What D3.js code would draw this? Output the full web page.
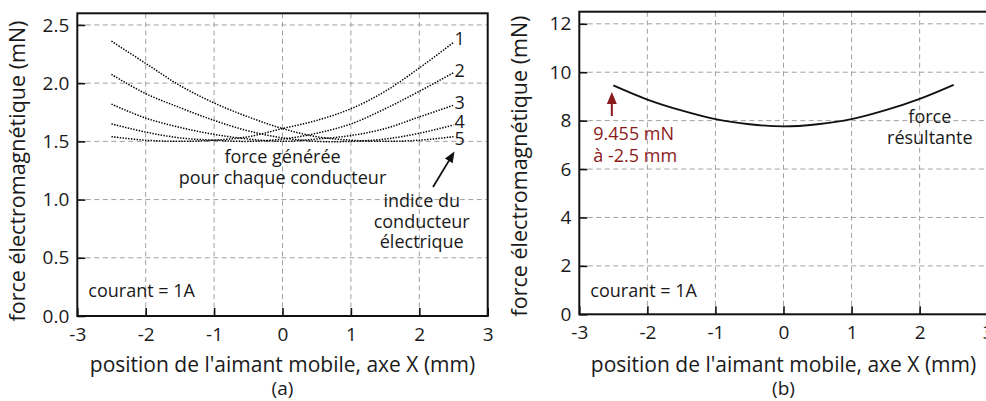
<!DOCTYPE html>
<html>
<head>
<meta charset="utf-8">
<script src="https://cdn.jsdelivr.net/npm/d3@7/dist/d3.min.js"></script>
<style>
  html, body { margin: 0; padding: 0; background: #fff; }
  svg { display: block; }
  text { font-family: "Open Sans", "Noto Sans", sans-serif; fill: #1a1a1a; }
</style>
</head>
<body>
<svg id="chart" width="986" height="401"></svg>
<script>
// Magnet position along X (mm)
const positions = [-2.5, -2, -1.5, -1, -0.5, 0, 0.5, 1, 1.5, 2, 2.5];

// Force generated on each conductor (mN), current = 1 A
const conducteur1 = [1.54, 1.51, 1.50, 1.51, 1.54, 1.61, 1.68, 1.78, 1.93, 2.13, 2.35];
const conducteur2 = [1.65, 1.58, 1.53, 1.51, 1.50, 1.52, 1.57, 1.65, 1.78, 1.93, 2.09];
const conducteur3 = [1.82, 1.70, 1.62, 1.56, 1.52, 1.50, 1.52, 1.55, 1.61, 1.71, 1.81];
const conducteur4 = [2.075, 1.91, 1.79, 1.68, 1.59, 1.53, 1.50, 1.50, 1.52, 1.57, 1.64];
const conducteur5 = [2.36, 2.17, 1.98, 1.83, 1.71, 1.61, 1.54, 1.51, 1.50, 1.51, 1.54];

// Resulting force on the whole winding (mN)
const resultante = [9.455, 8.87, 8.42, 8.06, 7.85, 7.76, 7.85, 8.06, 8.43, 8.90, 9.48];

const conducteurs = [conducteur1, conducteur2, conducteur3, conducteur4, conducteur5];
const conducteurLabels = ["1", "2", "3", "4", "5"];

const xTicks = [-3, -2, -1, 0, 1, 2, 3];
const yTicksA = [0, 0.5, 1.0, 1.5, 2.0, 2.5];
const yTicksB = [0, 2, 4, 6, 8, 10, 12];

const FS = 18;        // annotations
const FS_TICK = 19;   // tick labels
const FS_X = 21;      // x-axis title
const FS_Y = 21.5;    // y-axis title
const FONT = "'Open Sans', 'Noto Sans', sans-serif";
const RED = "#8b1a1a";
const svg = d3.select("#chart");

// filled triangular arrow head whose tip sits at (x, y), pointing along angle (radians)
function arrowHead(g, x, y, angle, len, half, color) {
  const c = Math.cos(angle), s = Math.sin(angle);
  const bx = x - c * len, by = y - s * len;
  g.append("path")
    .attr("d", `M${x},${y} L${bx - s * half},${by + c * half} L${bx + s * half},${by - c * half} Z`)
    .attr("fill", color);
}

function panel(opts) {
  const g = svg.append("g");
  const x = d3.scaleLinear().domain([-3, 3]).range([opts.left, opts.right]);
  const y = d3.scaleLinear().domain([0, opts.yMax]).range([opts.bottom, opts.top]);

  // dashed grid
  const grid = g.append("g")
    .attr("stroke", "#a2a2a2")
    .attr("stroke-width", 1)
    .attr("stroke-dasharray", "5,3.5");
  grid.selectAll("line.v").data(xTicks.filter(d => d > -3)).join("line")
    .attr("x1", d => x(d)).attr("x2", d => x(d))
    .attr("y1", opts.bottom).attr("y2", opts.top);
  grid.selectAll("line.h").data(opts.yTicks.filter(d => d > 0)).join("line")
    .attr("x1", opts.left).attr("x2", opts.right)
    .attr("y1", d => y(d)).attr("y2", d => y(d));

  // axes with inward ticks
  const xAxis = g.append("g")
    .attr("transform", `translate(0,${opts.bottom})`)
    .call(d3.axisBottom(x).tickValues(xTicks).tickFormat(d3.format("d"))
      .tickSizeInner(-8).tickSizeOuter(0).tickPadding(11.5));
  const yAxis = g.append("g")
    .attr("transform", `translate(${opts.left},0)`)
    .call(d3.axisLeft(y).tickValues(opts.yTicks).tickFormat(opts.yFormat)
      .tickSizeInner(-8).tickSizeOuter(0).tickPadding(8));
  [xAxis, yAxis].forEach(a => {
    a.select(".domain").remove();
    a.selectAll(".tick line").attr("stroke", "#111").attr("stroke-width", 1.6);
    a.selectAll(".tick text")
      .attr("font-family", FONT)
      .attr("font-size", FS_TICK).attr("fill", "#1a1a1a");
  });
  xAxis.selectAll(".tick text").text(d => d < 0 ? "-" + Math.abs(d) : d);

  // frame
  g.append("rect")
    .attr("x", opts.left).attr("y", opts.top)
    .attr("width", opts.right - opts.left).attr("height", opts.bottom - opts.top)
    .attr("fill", "none").attr("stroke", "#111").attr("stroke-width", 2);

  // axis titles
  g.append("text")
    .attr("x", x(0)).attr("y", 372)
    .attr("text-anchor", "middle").attr("font-size", FS_X)
    .text("position de l'aimant mobile, axe X (mm)");
  g.append("text")
    .attr("x", x(0)).attr("y", 394.5)
    .attr("text-anchor", "middle").attr("font-size", FS_TICK)
    .text(opts.tag);
  g.append("text")
    .attr("transform", `translate(${opts.yTitleX},${opts.yTitleY}) rotate(-90)`)
    .attr("text-anchor", "middle").attr("font-size", FS_Y)
    .text("force électromagnétique (mN)");

  g.append("text")
    .attr("x", opts.left + 11).attr("y", 297)
    .attr("font-size", FS)
    .text("courant = 1A");

  return { g, x, y };
}

// ---- (a) force on each conductor ----
const A = panel({
  left: 77.3, right: 487.7, top: 13.3, bottom: 316,
  yMax: 2.6, yTicks: yTicksA, yFormat: d3.format(".1f"),
  tag: "(a)", yTitleX: 25, yTitleY: 171
});

const lineA = d3.line()
  .x((d, i) => A.x(positions[i]))
  .y(d => A.y(d))
  .curve(d3.curveCatmullRom.alpha(0.5));

A.g.append("g").selectAll("path").data(conducteurs).join("path")
  .attr("d", lineA)
  .attr("fill", "none")
  .attr("stroke", "#000")
  .attr("stroke-width", 1.5)
  .attr("stroke-dasharray", "1.4,1.4");

// conductor index next to the right end of each curve
const labelShift = [3, 4.5, 4, 3, 8];
A.g.append("g").selectAll("text").data(conducteurs).join("text")
  .attr("x", A.x(2.5) + 1)
  .attr("y", (d, i) => A.y(d[d.length - 1]) + labelShift[i])
  .attr("font-size", FS)
  .text((d, i) => conducteurLabels[i]);

A.g.append("text")
  .attr("x", A.x(0)).attr("y", 163)
  .attr("text-anchor", "middle").attr("font-size", FS)
  .call(t => {
    t.append("tspan").attr("x", A.x(0)).text("force générée");
    t.append("tspan").attr("x", A.x(0)).attr("dy", 20.5).text("pour chaque conducteur");
  });

A.g.append("text")
  .attr("x", 421.7).attr("y", 207)
  .attr("text-anchor", "middle").attr("font-size", FS)
  .call(t => {
    t.append("tspan").attr("x", 421.7).text("indice du");
    t.append("tspan").attr("x", 421.7).attr("dy", 20.5).text("conducteur");
    t.append("tspan").attr("x", 421.7).attr("dy", 20.5).text("électrique");
  });

{
  const x1 = 433, y1 = 187, x2 = 454.5, y2 = 151.5;
  const ang = Math.atan2(y2 - y1, x2 - x1);
  A.g.append("line")
    .attr("x1", x1).attr("y1", y1)
    .attr("x2", x2 - Math.cos(ang) * 8).attr("y2", y2 - Math.sin(ang) * 8)
    .attr("stroke", "#111").attr("stroke-width", 1.8);
  arrowHead(A.g, x2, y2, ang, 11, 4.5, "#111");
}

// ---- (b) resulting force ----
const B = panel({
  left: 579.3, right: 987.7, top: 11.7, bottom: 314.3,
  yMax: 12.5, yTicks: yTicksB, yFormat: d3.format("d"),
  tag: "(b)", yTitleX: 527, yTitleY: 166
});

const lineB = d3.line()
  .x((d, i) => B.x(positions[i]))
  .y(d => B.y(d))
  .curve(d3.curveCatmullRom.alpha(0.5));

B.g.append("path")
  .datum(resultante)
  .attr("d", lineB)
  .attr("fill", "none")
  .attr("stroke", "#111")
  .attr("stroke-width", 1.8);

B.g.append("text")
  .attr("x", B.x(2.15)).attr("y", 123)
  .attr("text-anchor", "middle").attr("font-size", FS)
  .call(t => {
    t.append("tspan").attr("x", B.x(2.15)).text("force");
    t.append("tspan").attr("x", B.x(2.15)).attr("dy", 20.5).text("résultante");
  });

// pointer to the value at the left end of the curve
const xEnd = positions[0], yEnd = resultante[0];
{
  const ax = B.x(xEnd) - 1.5, tipY = B.y(yEnd) + 6.5;
  B.g.append("line")
    .attr("x1", ax).attr("y1", 116)
    .attr("x2", ax).attr("y2", tipY + 10)
    .attr("stroke", RED).attr("stroke-width", 2);
  arrowHead(B.g, ax, tipY, -Math.PI / 2, 12, 5, RED);
}

B.g.append("text")
  .attr("x", 593.3).attr("y", 140)
  .attr("font-size", FS)
  .style("fill", RED)
  .call(t => {
    t.append("tspan").attr("x", 593.3).text(`${yEnd} mN`);
    t.append("tspan").attr("x", 593.3).attr("dy", 21.5).text(`à ${xEnd} mm`);
  });
</script>
</body>
</html>
